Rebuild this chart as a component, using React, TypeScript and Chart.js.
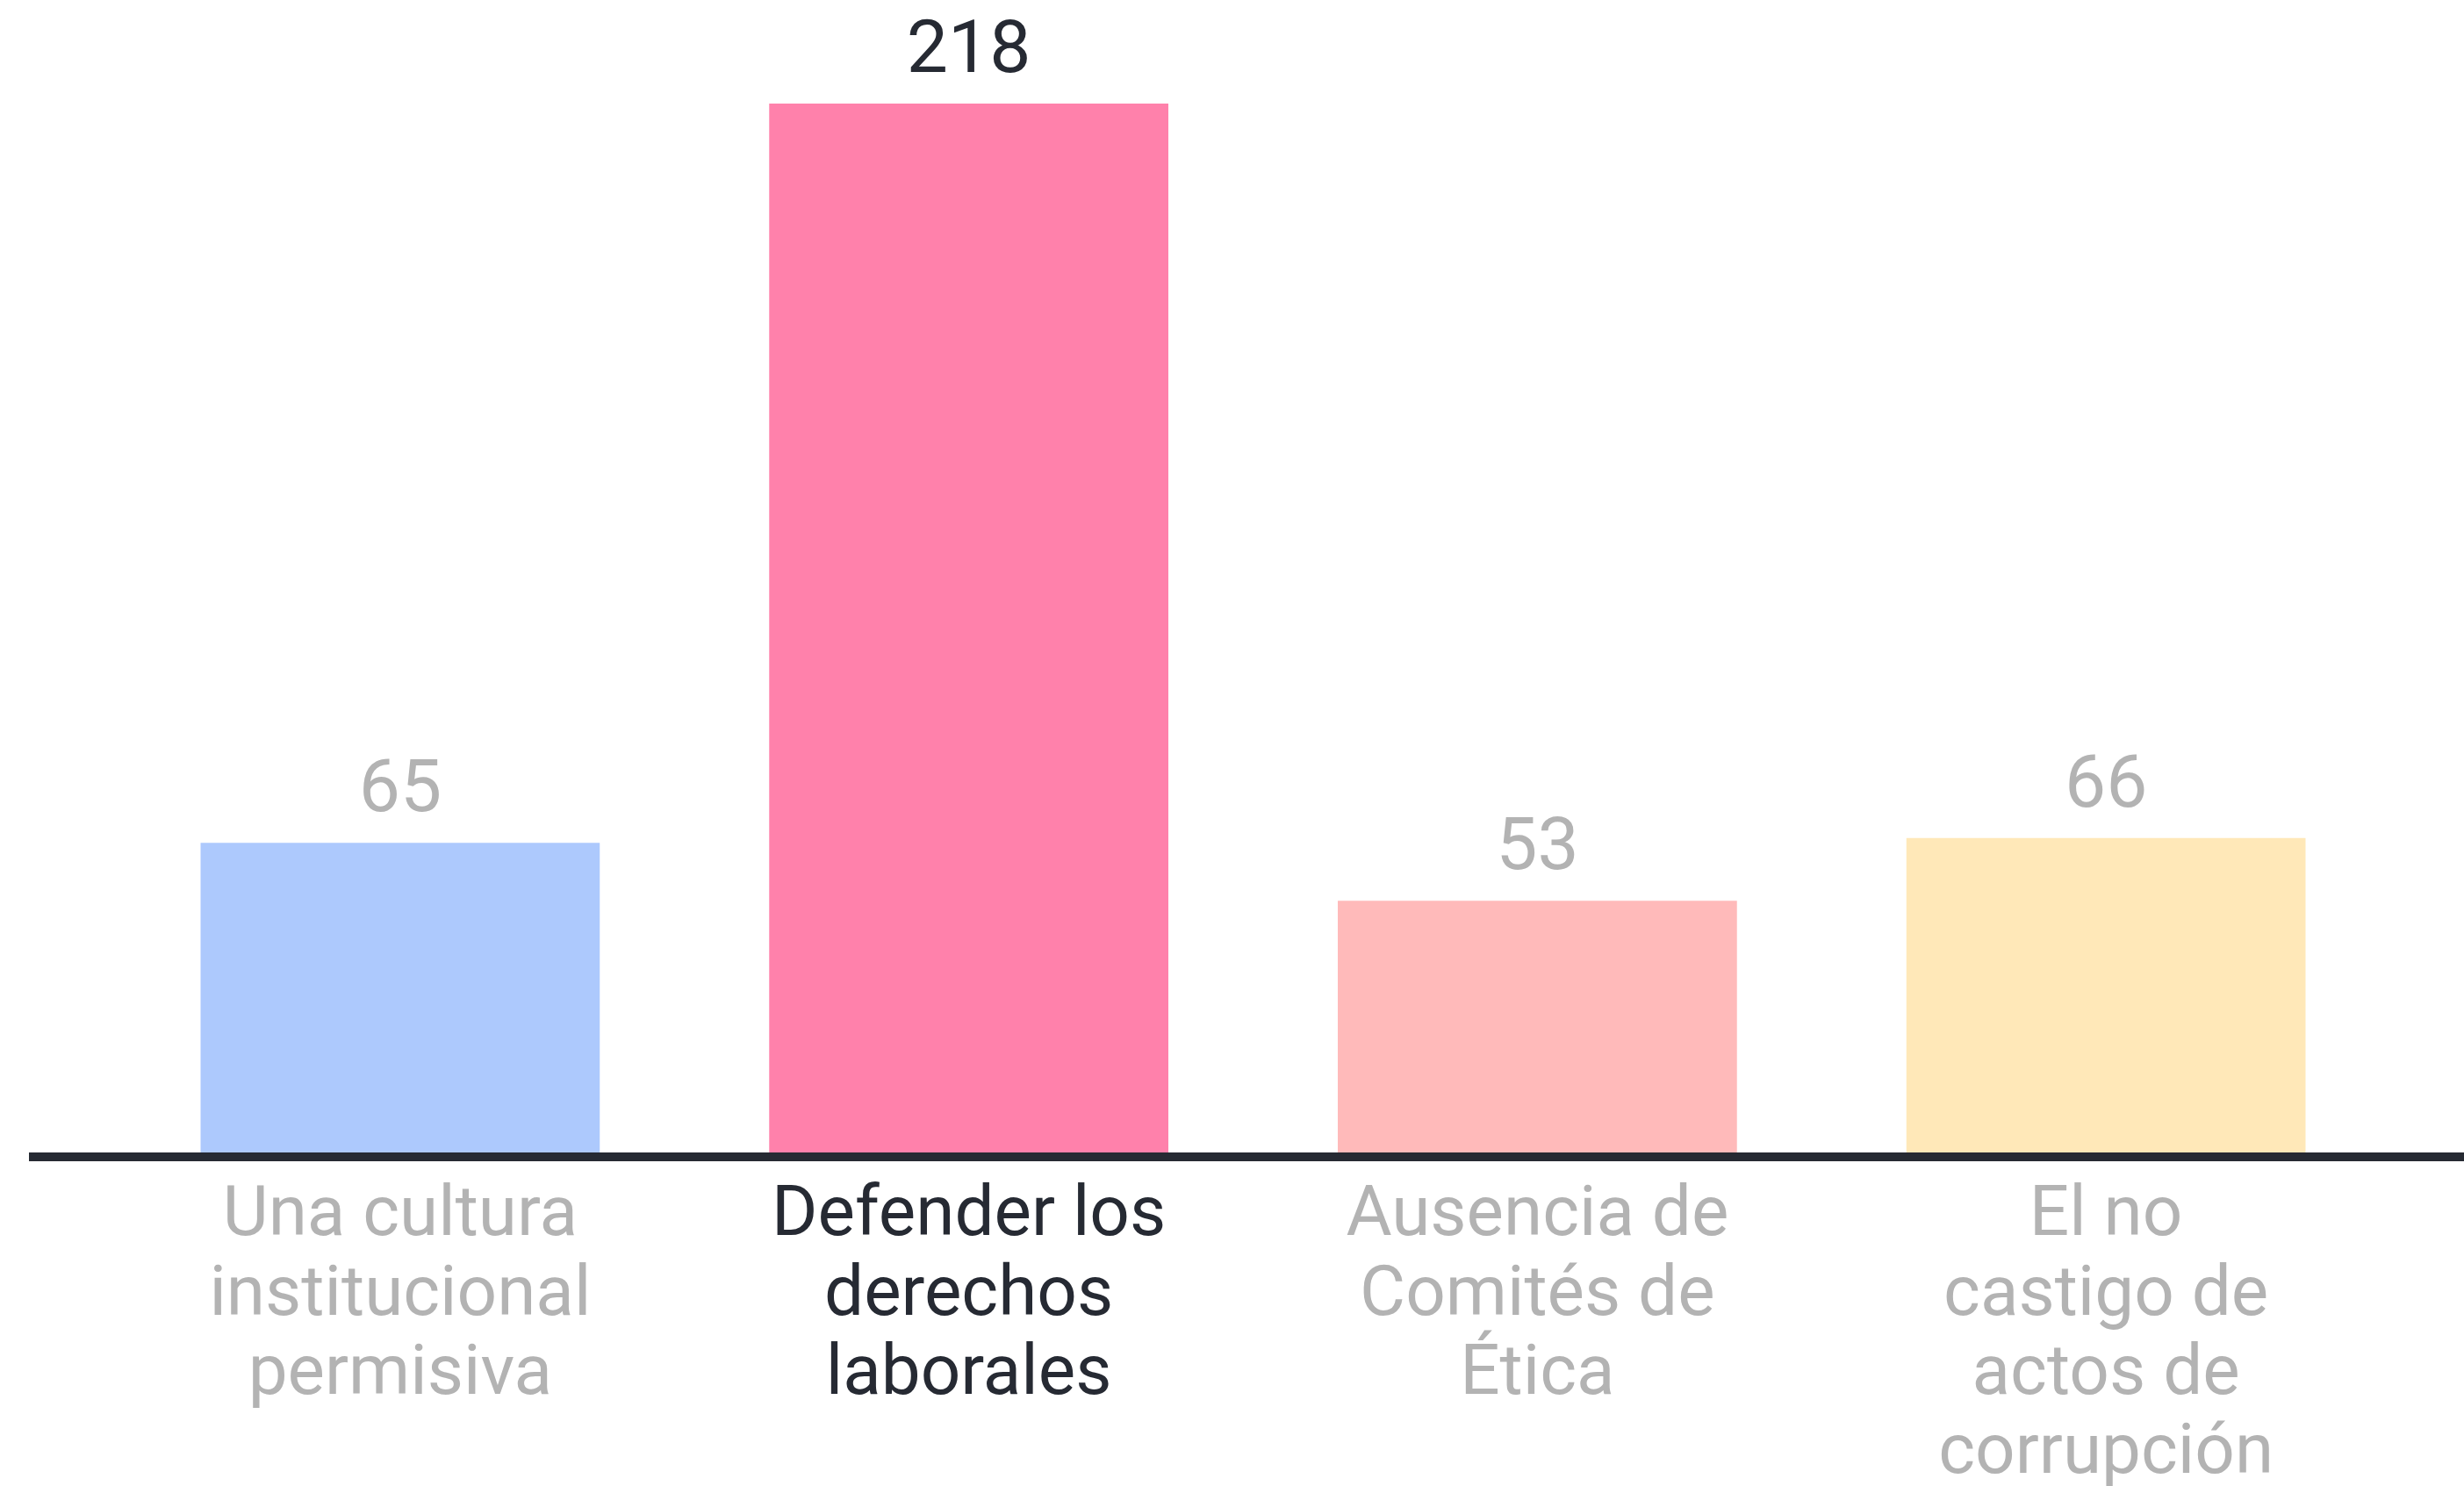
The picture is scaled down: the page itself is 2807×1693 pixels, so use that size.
import React, { useEffect, useRef } from "react";
import { Chart, registerables } from "chart.js";

Chart.register(...registerables);

const categories: string[][] = [
  ["Una cultura", "institucional", "permisiva"],
  ["Defender los", "derechos", "laborales"],
  ["Ausencia de", "Comités de", "Ética"],
  ["El no", "castigo de", "actos de", "corrupción"],
];
const values: number[] = [65, 218, 53, 66];
const barColors: string[] = ["#adc9fd", "#ff81ab", "#ffbaba", "#ffe8b8"];
const highlighted: boolean[] = [false, true, false, false];

const DARK = "#262a33";
const GRAY = "#b3b3b3";
const FONT = "Roboto";

const W = 2807;
const H = 1693;

const overlay = {
  id: "overlay",
  afterDatasetsDraw(chart: any) {
    const ctx = chart.ctx;
    const meta = chart.getDatasetMeta(0);
    ctx.save();
    ctx.font = `400 84px ${FONT}`;
    ctx.textAlign = "center";
    ctx.textBaseline = "middle";
    meta.data.forEach((bar: any, i: number) => {
      ctx.fillStyle = highlighted[i] ? DARK : GRAY;
      ctx.fillText(String(values[i]), bar.x, bar.y - 57);
    });
    // baseline axis line
    const y = chart.scales.y.getPixelForValue(0);
    ctx.fillStyle = DARK;
    ctx.fillRect(33, y - 5, W - 33, 10);
    ctx.restore();
  },
};

export default function App() {
  const ref = useRef<HTMLCanvasElement>(null);
  useEffect(() => {
    if (!ref.current) return;
    const chart = new Chart(ref.current, {
      type: "bar",
      data: {
        labels: categories,
        datasets: [
          {
            data: values,
            backgroundColor: barColors,
            borderWidth: 0,
            barPercentage: 0.702,
            categoryPercentage: 1,
          },
        ],
      },
      options: {
        animation: false,
        responsive: false,
        maintainAspectRatio: false,
        layout: { padding: { left: 132, right: 84, top: 118, bottom: 0 } },
        plugins: { legend: { display: false }, tooltip: { enabled: false } },
        scales: {
          x: {
            grid: { display: false, drawTicks: false },
            border: { display: false },
            ticks: {
              autoSkip: false,
              maxRotation: 0,
              padding: 24,
              font: { family: FONT, size: 80, lineHeight: 1.13 },
              color: (c: any) => (highlighted[c.index] ? DARK : GRAY),
            },
            afterFit: (s: any) => {
              s.height = H - 1318;
            },
          },
          y: {
            display: false,
            min: 0,
            max: 218,
          },
        },
      },
      plugins: [overlay],
    });
    return () => chart.destroy();
  }, []);
  return (
    <div style={{ position: "absolute", left: 0, top: 0, width: W, height: H, background: "#fff" }}>
      <canvas ref={ref} width={W} height={H} style={{ width: W, height: H, display: "block" }} />
    </div>
  );
}
